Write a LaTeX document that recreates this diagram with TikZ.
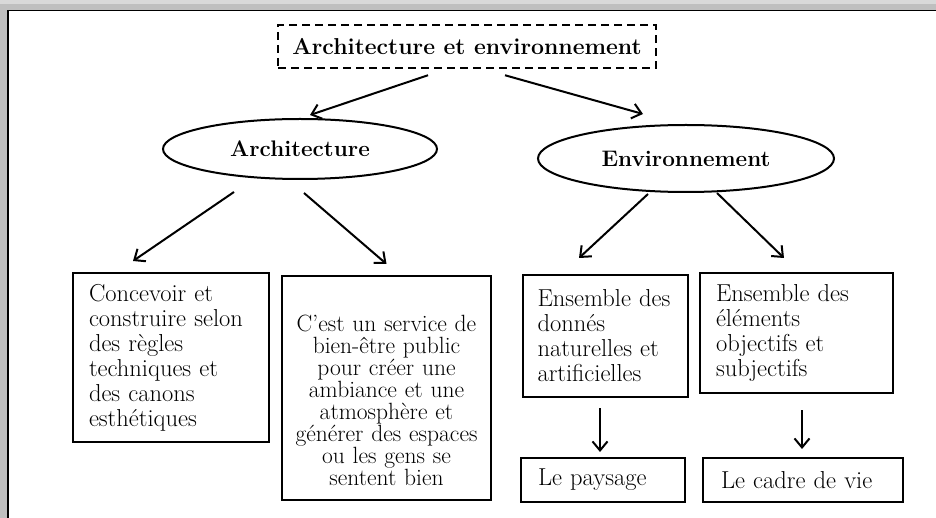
\documentclass[tikz,border=0pt]{standalone}
\usepackage{tikz}
\usetikzlibrary{shapes.geometric, arrows.meta}

\begin{document}
\begin{tikzpicture}[x=1pt, y=-1pt,
    cadre/.style={draw, line width=2pt, align=left, inner ysep=4pt,
        font=\fontsize{24.5}{25}\selectfont},
    bulle/.style={draw, ellipse, line width=2pt, inner sep=0pt,
        font=\fontsize{22.5}{25}\selectfont\bfseries},
    fleche/.style={line width=2pt, -{Straight Barb[length=9pt, width=15pt]}}]
    \useasboundingbox (0, 0) rectangle (936, 518);
    \fill[gray!50] (0, 0) rectangle (936, 518);
    \fill[gray!30] (0, 0) rectangle (936, 4);
    \fill[white] (8, 10.5) rectangle (936, 518);
    \draw[line width=1.5pt] (8, 518) -- (8, 10.5) -- (936, 10.5);

    \node[draw, dash pattern=on 8pt off 5pt, line width=2.5pt,
        minimum width=378pt, minimum height=43pt,
        font=\fontsize{23}{25}\selectfont\bfseries] (titre) at (467, 46.5)
        {Architecture et environnement};
    \node[bulle, minimum width=274pt, minimum height=60pt] (archi) at (300, 149) {Architecture};
    \node[bulle, minimum width=296pt, minimum height=67pt] (envir) at (686, 158.5) {Environnement};

    \node[cadre, text width=164pt, inner xsep=16pt, minimum height=169pt] (concevoir) at (171, 357.5)
        {Concevoir et\\construire selon\\des règles\\techniques et\\des canons\\esthétiques};
    \node[cadre, align=center, text width=195pt, inner xsep=7pt, minimum height=224pt,
        font=\fontsize{23.5}{22}\selectfont] (service) at (386.5, 388)
        {\rule{0pt}{41pt}C'est un service de\\bien-être public\\pour créer une\\ambiance et une\\atmosphère et\\générer des espaces\\ou les gens se\\sentent bien};
    \node[cadre, text width=136pt, inner xsep=14.5pt, minimum height=122pt] (donnees) at (605.5, 336)
        {Ensemble des\\donnés\\naturelles et\\artificielles};
    \node[cadre, text width=161pt, inner xsep=16pt, minimum height=120pt] (elements) at (796.5, 333)
        {Ensemble des\\éléments\\objectifs et\\subjectifs};
    \node[cadre, text width=130pt, inner xsep=17pt, minimum height=44pt] (paysage) at (603, 480)
        {Le paysage};
    \node[cadre, text width=164pt, inner xsep=18pt, minimum height=44pt] (vie) at (803, 480)
        {Le cadre de vie};

    \draw[fleche] ([xshift=-39pt, yshift=-6pt]titre.south) -- ([xshift=10pt, yshift=3pt]archi.north);
    \draw[fleche] ([xshift=38pt, yshift=-6pt]titre.south) -- ([xshift=-43pt, yshift=10pt]envir.north);
    \draw[fleche] ([xshift=-66pt, yshift=-12pt]archi.south) -- ([xshift=-38pt, yshift=11pt]concevoir.north);
    \draw[fleche] ([xshift=4pt, yshift=-13pt]archi.south) -- ([xshift=0pt, yshift=11pt]service.north);
    \draw[fleche] ([xshift=-38pt, yshift=-1pt]envir.south) -- ([xshift=-26.5pt, yshift=16pt]donnees.north);
    \draw[fleche] ([xshift=31pt, yshift=0pt]envir.south) -- ([xshift=-12.5pt, yshift=14pt]elements.north);
    \draw[fleche] ([xshift=-5.5pt, yshift=-10pt]donnees.south) -- ([xshift=-3pt, yshift=5pt]paysage.north);
    \draw[fleche] ([xshift=5.5pt, yshift=-16pt]elements.south) -- ([xshift=-1pt, yshift=8pt]vie.north);
\end{tikzpicture}
\end{document}
